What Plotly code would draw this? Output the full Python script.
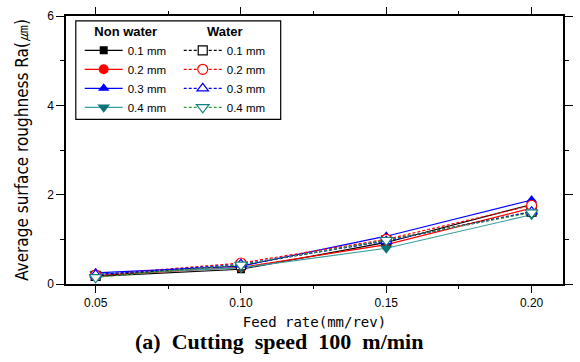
import plotly.graph_objects as go

feed = [0.05, 0.10, 0.15, 0.20]
depths = ["0.1 mm", "0.2 mm", "0.3 mm", "0.4 mm"]

non_water = {
    "0.1 mm": [0.17, 0.33, 0.93, 1.78],
    "0.2 mm": [0.19, 0.37, 0.88, 1.70],
    "0.3 mm": [0.25, 0.40, 1.07, 1.88],
    "0.4 mm": [0.22, 0.36, 0.80, 1.55],
}
water = {
    "0.1 mm": [0.18, 0.42, 0.98, 1.62],
    "0.2 mm": [0.20, 0.47, 1.00, 1.76],
    "0.3 mm": [0.21, 0.44, 0.96, 1.62],
    "0.4 mm": [0.15, 0.43, 0.98, 1.60],
}

nw_line = ["#000000", "#ff0000", "#0000ff", "#3a9e9e"]
nw_mark = ["#000000", "#ff0000", "#0000ff", "#0a7575"]
nw_sym = ["square", "circle", "triangle-up", "triangle-down"]
nw_size = [8, 10, 10, 11]
w_line = ["#000000", "#ff0000", "#0000ff", "#3a9a3a"]
w_mark = ["#000000", "#ff0000", "#0000ff", "#108080"]
w_size = [9, 10, 10, 11]

fig = go.Figure()
for i, d in enumerate(depths):
    fig.add_trace(go.Scatter(
        x=feed, y=non_water[d], name=d, mode="lines+markers", legend="legend",
        line=dict(color=nw_line[i], width=1.2),
        marker=dict(symbol=nw_sym[i], size=nw_size[i], color=nw_mark[i],
                    line=dict(width=0)),
    ))
for i, d in enumerate(depths):
    fig.add_trace(go.Scatter(
        x=feed, y=water[d], name=d, mode="lines+markers", legend="legend2",
        line=dict(color=w_line[i], width=1.2, dash="3px,2px"),
        marker=dict(symbol=nw_sym[i], size=w_size[i], color="white",
                    line=dict(width=1.2, color=w_mark[i])),
    ))

L, R, T, B = 66, 7, 9, 78
W, H = 580, 362
pw, ph = W - L - R, H - T - B

def px(xp):
    return (xp - L) / pw

def py(yp):
    return (H - B - yp) / ph

leg_font = dict(family="Liberation Sans, Arial", size=11.5, color="black")
title_font = dict(family="Liberation Sans, Arial", size=13, color="black")
fig.update_layout(
    width=W, height=H,
    margin=dict(l=L, r=R, t=T, b=B),
    paper_bgcolor="white", plot_bgcolor="white",
    font=dict(family="Liberation Sans, Arial", color="black"),
    legend=dict(
        x=px(80), y=py(12), xanchor="left", yanchor="top",
        bgcolor="rgba(0,0,0,0)", font=leg_font, tracegroupgap=0, itemwidth=38,
        title=dict(text="<b>Non water</b>", side="top center", font=title_font),
    ),
    legend2=dict(
        x=px(181), y=py(12), xanchor="left", yanchor="top",
        bgcolor="rgba(0,0,0,0)", font=leg_font, tracegroupgap=0, itemwidth=38,
        title=dict(text="<b>Water</b>", side="top center", font=title_font),
    ),
    shapes=[dict(type="rect", xref="paper", yref="paper",
                 x0=px(76), x1=px(285), y0=py(115), y1=py(14),
                 line=dict(color="black", width=1.2), fillcolor="rgba(0,0,0,0)")],
    annotations=[dict(text="<b>(a)&nbsp; Cutting&nbsp; speed&nbsp; 100&nbsp; m/min</b>",
                      xref="paper", yref="paper", x=px(283), y=py(343),
                      xanchor="center", yanchor="middle", showarrow=False,
                      font=dict(family="Liberation Serif, Times New Roman", size=22, color="black"))],
)

fig.update_xaxes(
    range=[0.0398, 0.2108], tickvals=feed, tickformat=".2f",
    ticks="outside", ticklen=7, tickwidth=1, tickcolor="black",
    showline=True, linecolor="black", linewidth=1.5, mirror="ticks",
    showgrid=False, zeroline=False,
    minor=dict(dtick=0.025, tick0=0.05, ticks="outside", ticklen=3, tickcolor="black", showgrid=False),
    tickfont=dict(family="Liberation Sans, Arial", size=12),
    title=dict(text="Feed rate(mm/rev)", standoff=8,
               font=dict(family="DejaVu Sans Mono", size=14)),
)
fig.update_yaxes(
    range=[0, 6], dtick=2,
    ticks="outside", ticklen=8, tickwidth=1, tickcolor="black",
    showline=True, linecolor="black", linewidth=1.5, mirror="ticks",
    showgrid=False, zeroline=False,
    minor=dict(dtick=1, ticks="outside", ticklen=4, tickcolor="black", showgrid=False),
    tickfont=dict(family="Liberation Sans, Arial", size=12),
    title=dict(text="Average surface roughness Ra(㎛)", standoff=14,
               font=dict(family="Liberation Sans Narrow, DejaVu Sans Condensed, Arial Narrow", size=17)),
)

fig.write_html("out.html")
